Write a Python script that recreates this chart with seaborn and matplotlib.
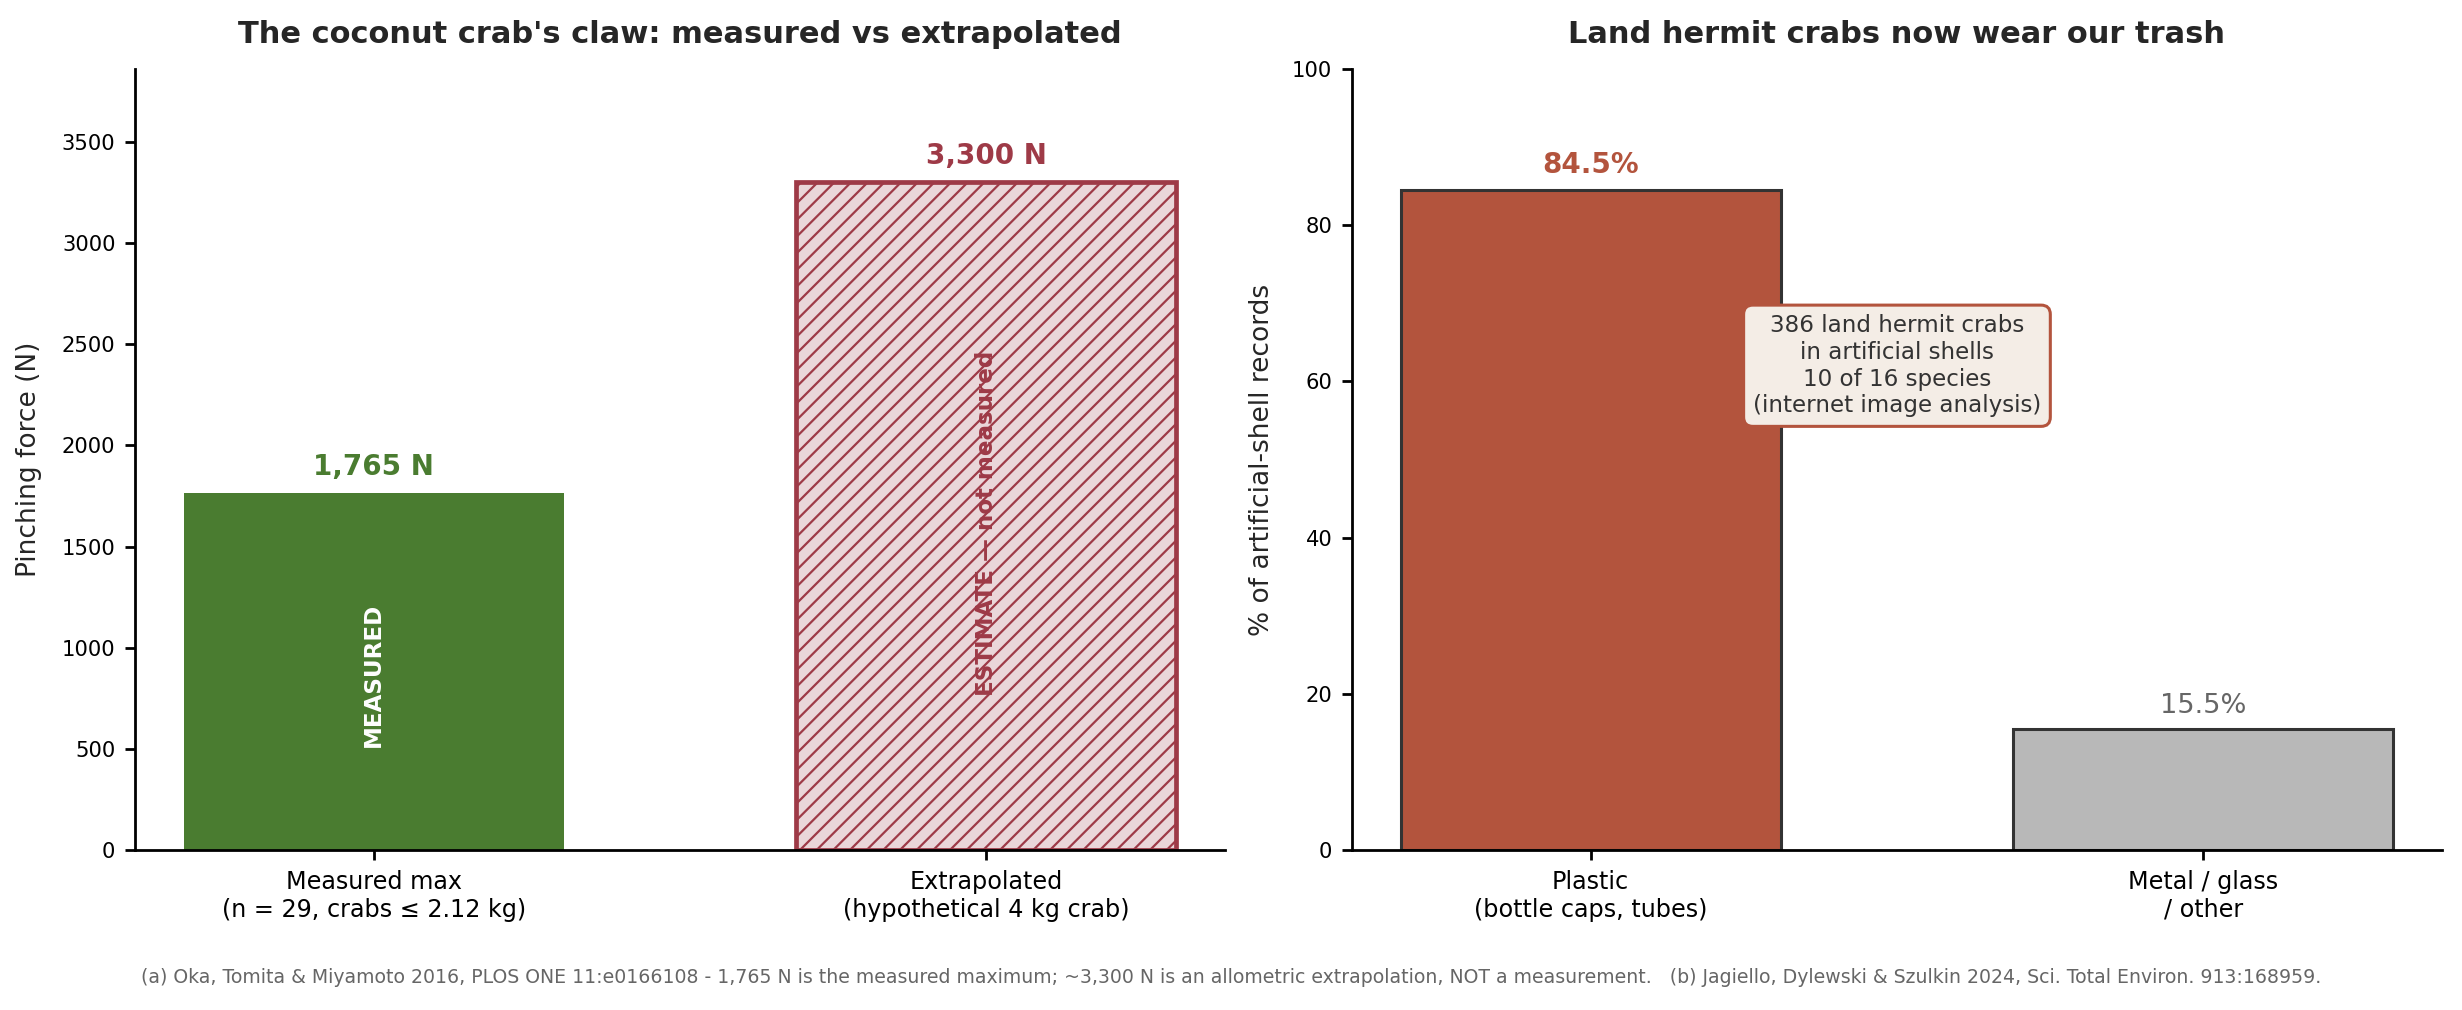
import numpy as np
import pandas as pd
import matplotlib
matplotlib.use("Agg")
import matplotlib.pyplot as plt
import seaborn as sns

# ---------------------------------------------
# data
# ---------------------------------------------
claw_labels = ["Measured max\n(n = 29, crabs \u2264 2.12 kg)",
               "Extrapolated\n(hypothetical 4 kg crab)"]
claw_force = [1765, 3300]
claw_text = ["1,765 N", "3,300 N"]

shell_labels = ["Plastic\n(bottle caps, tubes)", "Metal / glass\n/ other"]
shell_pct = [84.5, 15.5]

GREEN = "#4a7c30"
RED = "#9e3a47"
PINK = "#ead6d9"
RUST = "#b3543d"
GREY = "#b8b8b8"

sns.set_theme(style="ticks")
plt.rcParams.update({
    "xtick.color": "black",
    "ytick.color": "black",
    "axes.edgecolor": "black",
    "axes.linewidth": 1.0,
    "xtick.major.size": 3.5,
    "ytick.major.size": 3.5,
    "xtick.major.width": 1.0,
    "ytick.major.width": 1.0,
    "hatch.linewidth": 0.8,
})

fig = plt.figure(figsize=(12.31, 5.05), dpi=200)
ax1 = fig.add_axes([0.0548, 0.158, 0.4428, 0.774])
ax2 = fig.add_axes([0.549, 0.158, 0.443, 0.774])

# ---------------------------------------------
# (a) coconut crab claw
# ---------------------------------------------
df1 = pd.DataFrame({"label": claw_labels, "force": claw_force})
sns.barplot(data=df1, x="label", y="force", hue="label",
            palette=[GREEN, PINK], legend=False, width=0.62,
            saturation=1, ax=ax1)
p0, p1 = ax1.patches[0], ax1.patches[1]
p0.set_facecolor(GREEN)
p0.set_edgecolor(GREEN)
p0.set_linewidth(0)
p1.set_facecolor(PINK)
p1.set_edgecolor(RED)
p1.set_linewidth(1.7)
p1.set_hatch("////")

ax1.set_xlim(-0.39, 1.39)
ax1.set_ylim(0, 3300 * 1.17)
ax1.set_xlabel("")
ax1.set_ylabel("Pinching force (N)", fontsize=9.5, labelpad=7)
ax1.set_title("The coconut crab's claw: measured vs extrapolated",
              fontsize=11, fontweight="bold", pad=9.4, color="#262626")
ax1.tick_params(axis="x", labelsize=8.6)
ax1.tick_params(axis="y", labelsize=7.6)

for i, (v, t, c) in enumerate(zip(claw_force, claw_text, [GREEN, RED])):
    ax1.annotate(t, (i, v), xytext=(0, 4.5), textcoords="offset points",
                 ha="center", va="bottom", fontsize=10,
                 fontweight="bold", color=c)

ax1.text(0, claw_force[0] * 0.49, "MEASURED", rotation=90,
         ha="center", va="center", color="white",
         fontsize=8.3, fontweight="bold")
ax1.text(1, claw_force[1] * 0.49, "ESTIMATE \u2014 not measured", rotation=90,
         ha="center", va="center", color=RED,
         fontsize=8.3, fontweight="bold")

# ---------------------------------------------
# (b) hermit crab shells
# ---------------------------------------------
df2 = pd.DataFrame({"label": shell_labels, "pct": shell_pct})
sns.barplot(data=df2, x="label", y="pct", hue="label",
            palette=[RUST, GREY], legend=False, width=0.62,
            saturation=1, edgecolor="#333333", linewidth=1.1, ax=ax2)
ax2.set_xlim(-0.39, 1.39)
ax2.set_ylim(0, 100)
ax2.set_xlabel("")
ax2.set_ylabel("% of artificial-shell records", fontsize=9.5, labelpad=6)
ax2.set_title("Land hermit crabs now wear our trash",
              fontsize=11, fontweight="bold", pad=9.4, color="#262626")
ax2.tick_params(axis="x", labelsize=8.6)
ax2.tick_params(axis="y", labelsize=7.6)

ax2.annotate(f"{shell_pct[0]}%", (0, shell_pct[0]), xytext=(0, 3.8),
             textcoords="offset points", ha="center", va="bottom",
             fontsize=10, fontweight="bold", color=RUST)
ax2.annotate(f"{shell_pct[1]}%", (1, shell_pct[1]), xytext=(0, 3.8),
             textcoords="offset points", ha="center", va="bottom",
             fontsize=9.8, color="#666666")

ax2.text(0.5, 62, "386 land hermit crabs\nin artificial shells\n10 of 16 species\n(internet image analysis)",
         ha="center", va="center", fontsize=8.3, color="#333333",
         bbox=dict(boxstyle="round,pad=0.4", facecolor="#f4ede6",
                   edgecolor=RUST, linewidth=1.1))

for ax in (ax1, ax2):
    sns.despine(ax=ax)

fig.text(0.5, 0.032,
         "(a) Oka, Tomita & Miyamoto 2016, PLOS ONE 11:e0166108 - 1,765 N is the measured maximum; "
         "~3,300 N is an allometric extrapolation, NOT a measurement.   "
         "(b) Jagiello, Dylewski & Szulkin 2024, Sci. Total Environ. 913:168959.",
         ha="center", va="center", fontsize=6.8, color="#666666")

fig.savefig("out.png", dpi=200)
